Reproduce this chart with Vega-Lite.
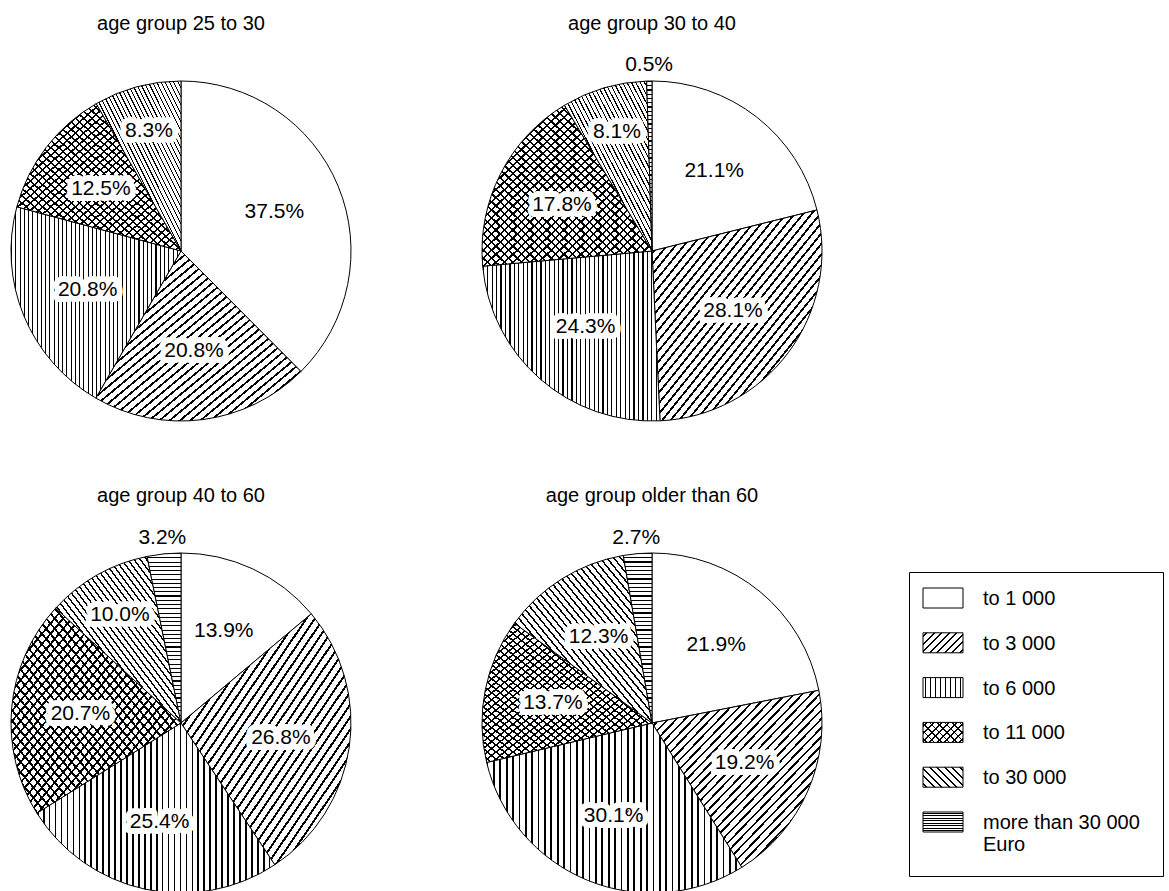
{
  "$schema": "https://vega.github.io/schema/vega-lite/v6.json",
  "background": "white",
  "padding": {"left": 0, "top": 14, "right": 0, "bottom": 0},
  "params": [
    {"name": "s40", "value": [
      {"offset":0,"color":"transparent"},{"offset":0,"color":"#000"},{"offset":0.007,"color":"#000"},{"offset":0.007,"color":"transparent"},
      {"offset":0.025,"color":"transparent"},{"offset":0.025,"color":"#000"},{"offset":0.032,"color":"#000"},{"offset":0.032,"color":"transparent"},
      {"offset":0.05,"color":"transparent"},{"offset":0.05,"color":"#000"},{"offset":0.057,"color":"#000"},{"offset":0.057,"color":"transparent"},
      {"offset":0.075,"color":"transparent"},{"offset":0.075,"color":"#000"},{"offset":0.082,"color":"#000"},{"offset":0.082,"color":"transparent"},
      {"offset":0.1,"color":"transparent"},{"offset":0.1,"color":"#000"},{"offset":0.107,"color":"#000"},{"offset":0.107,"color":"transparent"},
      {"offset":0.125,"color":"transparent"},{"offset":0.125,"color":"#000"},{"offset":0.132,"color":"#000"},{"offset":0.132,"color":"transparent"},
      {"offset":0.15,"color":"transparent"},{"offset":0.15,"color":"#000"},{"offset":0.157,"color":"#000"},{"offset":0.157,"color":"transparent"},
      {"offset":0.175,"color":"transparent"},{"offset":0.175,"color":"#000"},{"offset":0.182,"color":"#000"},{"offset":0.182,"color":"transparent"},
      {"offset":0.2,"color":"transparent"},{"offset":0.2,"color":"#000"},{"offset":0.207,"color":"#000"},{"offset":0.207,"color":"transparent"},
      {"offset":0.225,"color":"transparent"},{"offset":0.225,"color":"#000"},{"offset":0.232,"color":"#000"},{"offset":0.232,"color":"transparent"},
      {"offset":0.25,"color":"transparent"},{"offset":0.25,"color":"#000"},{"offset":0.257,"color":"#000"},{"offset":0.257,"color":"transparent"},
      {"offset":0.275,"color":"transparent"},{"offset":0.275,"color":"#000"},{"offset":0.282,"color":"#000"},{"offset":0.282,"color":"transparent"},
      {"offset":0.3,"color":"transparent"},{"offset":0.3,"color":"#000"},{"offset":0.307,"color":"#000"},{"offset":0.307,"color":"transparent"},
      {"offset":0.325,"color":"transparent"},{"offset":0.325,"color":"#000"},{"offset":0.332,"color":"#000"},{"offset":0.332,"color":"transparent"},
      {"offset":0.35,"color":"transparent"},{"offset":0.35,"color":"#000"},{"offset":0.357,"color":"#000"},{"offset":0.357,"color":"transparent"},
      {"offset":0.375,"color":"transparent"},{"offset":0.375,"color":"#000"},{"offset":0.382,"color":"#000"},{"offset":0.382,"color":"transparent"},
      {"offset":0.4,"color":"transparent"},{"offset":0.4,"color":"#000"},{"offset":0.407,"color":"#000"},{"offset":0.407,"color":"transparent"},
      {"offset":0.425,"color":"transparent"},{"offset":0.425,"color":"#000"},{"offset":0.432,"color":"#000"},{"offset":0.432,"color":"transparent"},
      {"offset":0.45,"color":"transparent"},{"offset":0.45,"color":"#000"},{"offset":0.457,"color":"#000"},{"offset":0.457,"color":"transparent"},
      {"offset":0.475,"color":"transparent"},{"offset":0.475,"color":"#000"},{"offset":0.482,"color":"#000"},{"offset":0.482,"color":"transparent"},
      {"offset":0.5,"color":"transparent"},{"offset":0.5,"color":"#000"},{"offset":0.507,"color":"#000"},{"offset":0.507,"color":"transparent"},
      {"offset":0.525,"color":"transparent"},{"offset":0.525,"color":"#000"},{"offset":0.532,"color":"#000"},{"offset":0.532,"color":"transparent"},
      {"offset":0.55,"color":"transparent"},{"offset":0.55,"color":"#000"},{"offset":0.557,"color":"#000"},{"offset":0.557,"color":"transparent"},
      {"offset":0.575,"color":"transparent"},{"offset":0.575,"color":"#000"},{"offset":0.582,"color":"#000"},{"offset":0.582,"color":"transparent"},
      {"offset":0.6,"color":"transparent"},{"offset":0.6,"color":"#000"},{"offset":0.607,"color":"#000"},{"offset":0.607,"color":"transparent"},
      {"offset":0.625,"color":"transparent"},{"offset":0.625,"color":"#000"},{"offset":0.632,"color":"#000"},{"offset":0.632,"color":"transparent"},
      {"offset":0.65,"color":"transparent"},{"offset":0.65,"color":"#000"},{"offset":0.657,"color":"#000"},{"offset":0.657,"color":"transparent"},
      {"offset":0.675,"color":"transparent"},{"offset":0.675,"color":"#000"},{"offset":0.682,"color":"#000"},{"offset":0.682,"color":"transparent"},
      {"offset":0.7,"color":"transparent"},{"offset":0.7,"color":"#000"},{"offset":0.707,"color":"#000"},{"offset":0.707,"color":"transparent"},
      {"offset":0.725,"color":"transparent"},{"offset":0.725,"color":"#000"},{"offset":0.732,"color":"#000"},{"offset":0.732,"color":"transparent"},
      {"offset":0.75,"color":"transparent"},{"offset":0.75,"color":"#000"},{"offset":0.757,"color":"#000"},{"offset":0.757,"color":"transparent"},
      {"offset":0.775,"color":"transparent"},{"offset":0.775,"color":"#000"},{"offset":0.782,"color":"#000"},{"offset":0.782,"color":"transparent"},
      {"offset":0.8,"color":"transparent"},{"offset":0.8,"color":"#000"},{"offset":0.807,"color":"#000"},{"offset":0.807,"color":"transparent"},
      {"offset":0.825,"color":"transparent"},{"offset":0.825,"color":"#000"},{"offset":0.832,"color":"#000"},{"offset":0.832,"color":"transparent"},
      {"offset":0.85,"color":"transparent"},{"offset":0.85,"color":"#000"},{"offset":0.857,"color":"#000"},{"offset":0.857,"color":"transparent"},
      {"offset":0.875,"color":"transparent"},{"offset":0.875,"color":"#000"},{"offset":0.882,"color":"#000"},{"offset":0.882,"color":"transparent"},
      {"offset":0.9,"color":"transparent"},{"offset":0.9,"color":"#000"},{"offset":0.907,"color":"#000"},{"offset":0.907,"color":"transparent"},
      {"offset":0.925,"color":"transparent"},{"offset":0.925,"color":"#000"},{"offset":0.932,"color":"#000"},{"offset":0.932,"color":"transparent"},
      {"offset":0.95,"color":"transparent"},{"offset":0.95,"color":"#000"},{"offset":0.957,"color":"#000"},{"offset":0.957,"color":"transparent"},
      {"offset":0.975,"color":"transparent"},{"offset":0.975,"color":"#000"},{"offset":0.982,"color":"#000"},{"offset":0.982,"color":"transparent"}
    ]},
    {"name": "sL", "value": [
      {"offset":0.05,"color":"transparent"},{"offset":0.05,"color":"#000"},{"offset":0.08,"color":"#000"},{"offset":0.08,"color":"transparent"},
      {"offset":0.175,"color":"transparent"},{"offset":0.175,"color":"#000"},{"offset":0.205,"color":"#000"},{"offset":0.205,"color":"transparent"},
      {"offset":0.3,"color":"transparent"},{"offset":0.3,"color":"#000"},{"offset":0.33,"color":"#000"},{"offset":0.33,"color":"transparent"},
      {"offset":0.425,"color":"transparent"},{"offset":0.425,"color":"#000"},{"offset":0.455,"color":"#000"},{"offset":0.455,"color":"transparent"},
      {"offset":0.55,"color":"transparent"},{"offset":0.55,"color":"#000"},{"offset":0.58,"color":"#000"},{"offset":0.58,"color":"transparent"},
      {"offset":0.675,"color":"transparent"},{"offset":0.675,"color":"#000"},{"offset":0.705,"color":"#000"},{"offset":0.705,"color":"transparent"},
      {"offset":0.8,"color":"transparent"},{"offset":0.8,"color":"#000"},{"offset":0.83,"color":"#000"},{"offset":0.83,"color":"transparent"},
      {"offset":0.925,"color":"transparent"},{"offset":0.925,"color":"#000"},{"offset":0.955,"color":"#000"},{"offset":0.955,"color":"transparent"}
    ]}
  ],
  "datasets": {
    "shares": [
      {"g":"age group 25 to 30","cat":"to 1 000","k":1,"share":0.375},
      {"g":"age group 25 to 30","cat":"to 3 000","k":2,"share":0.208},
      {"g":"age group 25 to 30","cat":"to 6 000","k":3,"share":0.208},
      {"g":"age group 25 to 30","cat":"to 11 000","k":4,"share":0.125},
      {"g":"age group 25 to 30","cat":"to 30 000","k":5,"share":0.083},
      {"g":"age group 30 to 40","cat":"to 1 000","k":1,"share":0.211},
      {"g":"age group 30 to 40","cat":"to 3 000","k":2,"share":0.281},
      {"g":"age group 30 to 40","cat":"to 6 000","k":3,"share":0.243},
      {"g":"age group 30 to 40","cat":"to 11 000","k":4,"share":0.178},
      {"g":"age group 30 to 40","cat":"to 30 000","k":5,"share":0.081},
      {"g":"age group 30 to 40","cat":"more than 30 000 Euro","k":6,"share":0.005},
      {"g":"age group 40 to 60","cat":"to 1 000","k":1,"share":0.139},
      {"g":"age group 40 to 60","cat":"to 3 000","k":2,"share":0.268},
      {"g":"age group 40 to 60","cat":"to 6 000","k":3,"share":0.254},
      {"g":"age group 40 to 60","cat":"to 11 000","k":4,"share":0.207},
      {"g":"age group 40 to 60","cat":"to 30 000","k":5,"share":0.100},
      {"g":"age group 40 to 60","cat":"more than 30 000 Euro","k":6,"share":0.032},
      {"g":"age group older than 60","cat":"to 1 000","k":1,"share":0.219},
      {"g":"age group older than 60","cat":"to 3 000","k":2,"share":0.192},
      {"g":"age group older than 60","cat":"to 6 000","k":3,"share":0.301},
      {"g":"age group older than 60","cat":"to 11 000","k":4,"share":0.137},
      {"g":"age group older than 60","cat":"to 30 000","k":5,"share":0.123},
      {"g":"age group older than 60","cat":"more than 30 000 Euro","k":6,"share":0.027}
    ],
    "cats": [
      {"cat":"to 1 000","k":1,"label":"to 1 000"},
      {"cat":"to 3 000","k":2,"label":"to 3 000"},
      {"cat":"to 6 000","k":3,"label":"to 6 000"},
      {"cat":"to 11 000","k":4,"label":"to 11 000"},
      {"cat":"to 30 000","k":5,"label":"to 30 000"},
      {"cat":"more than 30 000 Euro","k":6,"label":"more than 30 000\nEuro"}
    ]
  },
  "spacing": 75,
  "hconcat": [
    {
      "data": {"name": "shares"},
      "facet": {
        "field": "g",
        "type": "nominal",
        "sort": ["age group 25 to 30", "age group 30 to 40", "age group 40 to 60", "age group older than 60"],
        "header": {"title": null, "labelFontSize": 20, "labelFont": "Liberation Sans", "labelColor": "#000", "labelPadding": 17}
      },
      "columns": 2,
      "spacing": {"row": 35, "column": 109},
      "spec": {
        "width": 362,
        "height": 400,
        "encoding": {
          "theta": {"field": "share", "type": "quantitative", "stack": "normalize"},
          "order": {"field": "k", "type": "quantitative"},
          "detail": {"field": "cat", "type": "nominal"}
        },
        "layer": [
          {"mark": {"type": "arc", "outerRadius": 170, "fill": "#fff", "stroke": "#000", "strokeWidth": 1}},
          {
            "mark": {"type": "arc", "outerRadius": 170, "strokeWidth": 0,
              "fill": {"expr": "datum.cat === 'to 3 000' ? {gradient: 'linear', x1: 0, y1: 0, x2: 1, y2: 1, stops: s40} : datum.cat === 'to 6 000' ? {gradient: 'linear', x1: 0, y1: 0, x2: 1, y2: 0, stops: s40} : datum.cat === 'to 11 000' ? {gradient: 'linear', x1: 0, y1: 0, x2: 1, y2: 1, stops: s40} : datum.cat === 'to 30 000' ? {gradient: 'linear', x1: 0, y1: 1, x2: 1, y2: 0, stops: s40} : datum.cat === 'more than 30 000 Euro' ? {gradient: 'linear', x1: 1, y1: 0, x2: 1, y2: 1, stops: s40} : 'transparent'"}
            }
          },
          {
            "mark": {"type": "arc", "outerRadius": 170, "strokeWidth": 0,
              "fill": {"expr": "datum.cat === 'to 11 000' ? {gradient: 'linear', x1: 0, y1: 1, x2: 1, y2: 0, stops: s40} : 'transparent'"}
            }
          },
          {
            "mark": {"type": "text", "radius": {"expr": "datum.share < 0.05 ? 186 : datum.share < 0.105 ? 124 : 101"}, "fontSize": 21, "font": "Liberation Sans", "fill": "#fff", "stroke": "#fff", "strokeWidth": 12, "strokeJoin": "round"},
            "encoding": {"text": {"field": "share", "type": "quantitative", "format": ".1%"}}
          },
          {
            "mark": {"type": "text", "radius": {"expr": "datum.share < 0.05 ? 186 : datum.share < 0.105 ? 124 : 101"}, "fontSize": 21, "font": "Liberation Sans", "fill": "#000"},
            "encoding": {"text": {"field": "share", "type": "quantitative", "format": ".1%"}}
          }
        ]
      }
    },
    {
      "spacing": 0,
      "vconcat": [
        {
          "data": {"name": "cats"},
          "width": 254,
          "height": 520,
          "mark": {"type": "text", "opacity": 0},
          "encoding": {"text": {"value": ""}}
        },
        {
          "data": {"name": "cats"},
          "width": 254,
          "height": 304,
          "view": {"stroke": "#000", "strokeWidth": 1, "fill": "#fff"},
          "encoding": {
            "y": {"field": "cat", "type": "nominal", "sort": {"field": "k", "op": "min"}, "axis": null, "scale": {"type": "point", "padding": 0, "range": [26, 250]}}
          },
          "layer": [
            {
              "mark": {"type": "point", "shape": "M-1,-0.5H1V0.5H-1Z", "size": 1600, "filled": true, "fill": "#fff", "stroke": "#000", "strokeWidth": 1, "opacity": 1},
              "encoding": {"x": {"datum": 34, "type": "quantitative", "axis": null, "scale": {"domain": [0, 254], "nice": false, "zero": true}}}
            },
            {
              "mark": {"type": "point", "shape": "M-1,-0.5H1V0.5H-1Z", "size": 1600, "filled": true, "strokeWidth": 0, "opacity": 1,
                "fill": {"expr": "datum.cat === 'to 3 000' ? {gradient: 'linear', x1: 0, y1: 0, x2: 1.2, y2: 0.6, stops: sL} : datum.cat === 'to 6 000' ? {gradient: 'linear', x1: 0, y1: 0, x2: 1, y2: 0, stops: sL} : datum.cat === 'to 11 000' ? {gradient: 'linear', x1: 0, y1: 0, x2: 1.2, y2: 0.6, stops: sL} : datum.cat === 'to 30 000' ? {gradient: 'linear', x1: 0, y1: 1, x2: 1.2, y2: 0.4, stops: sL} : datum.cat === 'more than 30 000 Euro' ? {gradient: 'linear', x1: 1, y1: 0, x2: 1, y2: 1, stops: sL} : 'transparent'"}},
              "encoding": {"x": {"datum": 34, "type": "quantitative"}}
            },
            {
              "mark": {"type": "point", "shape": "M-1,-0.5H1V0.5H-1Z", "size": 1600, "filled": true, "strokeWidth": 0, "opacity": 1,
                "fill": {"expr": "datum.cat === 'to 11 000' ? {gradient: 'linear', x1: 0, y1: 1, x2: 1.2, y2: 0.4, stops: sL} : 'transparent'"}},
              "encoding": {"x": {"datum": 34, "type": "quantitative"}}
            },
            {
              "mark": {"type": "text", "align": "left", "baseline": "alphabetic", "dy": 7, "fontSize": 20, "font": "Liberation Sans", "fill": "#000", "lineBreak": "\n"},
              "encoding": {"x": {"datum": 74, "type": "quantitative"}, "text": {"field": "label", "type": "nominal"}}
            }
          ]
        }
      ]
    }
  ],
  "config": {"view": {"stroke": null}, "font": "Liberation Sans"}
}
